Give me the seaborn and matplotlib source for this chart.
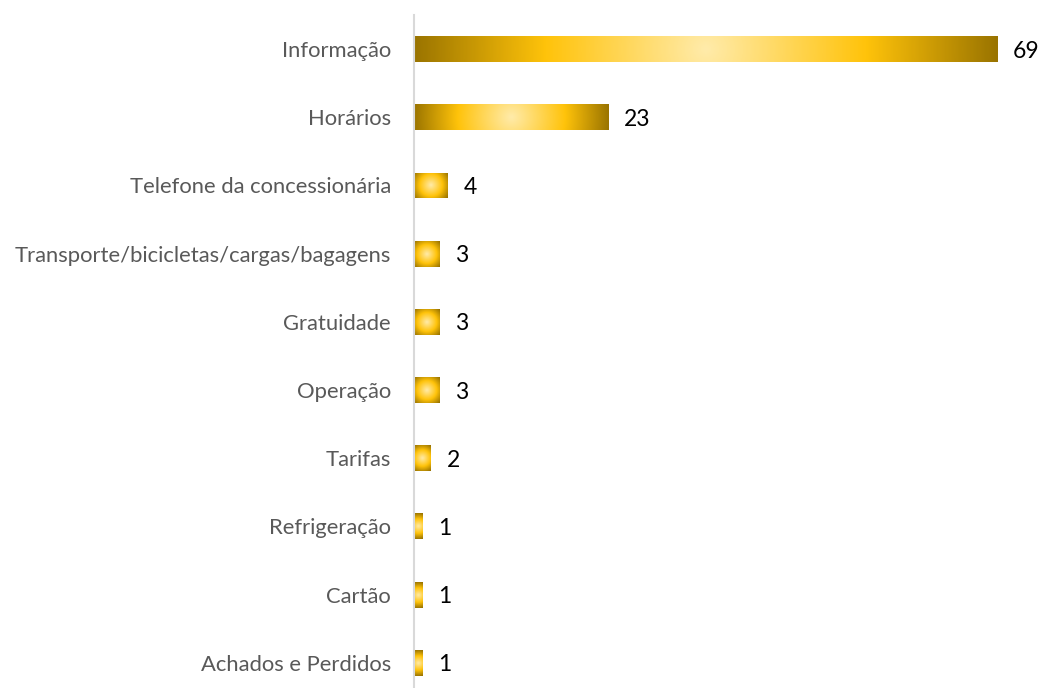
import numpy as np
import pandas as pd
import matplotlib
matplotlib.use("Agg")
import matplotlib.pyplot as plt
from matplotlib.colors import LinearSegmentedColormap
import seaborn as sns

categories = ["Informação", "Horários", "Telefone da concessionária",
              "Transporte/bicicletas/cargas/bagagens", "Gratuidade", "Operação",
              "Tarifas", "Refrigeração", "Cartão", "Achados e Perdidos"]
values = [69, 23, 4, 3, 3, 3, 2, 1, 1, 1]

df = pd.DataFrame({"categoria": categories, "total": values})

sns.set_theme(style="white")
plt.rcParams["font.family"] = ["Lato", "DejaVu Sans"]

fig = plt.figure(figsize=(10.41, 6.88), dpi=100)
ax = fig.add_axes([414 / 1041, 0.0, 1 - 414 / 1041, 1 - 15 / 688])

sns.barplot(data=df, x="total", y="categoria", orient="h", color="#FFC000",
            width=0.38, ax=ax)

ax.set_xlim(0, 74.2)
ax.set_ylim(9.37, -0.5)

# gold gradient: light centre, amber middle, dark olive-gold rim
gold = LinearSegmentedColormap.from_list(
    "gold", [(0.0, "#FFEBAA"), (0.55, "#FFC30A"), (1.0, "#9A7400")])

fig.canvas.draw()
to_px = ax.transData
for patch in ax.patches:
    x0, y0 = patch.get_x(), patch.get_y()
    w, h = patch.get_width(), patch.get_height()
    (px0, py0), (px1, py1) = to_px.transform([(x0, y0), (x0 + w, y0 + h)])
    hw, hh = abs(px1 - px0) / 2, abs(py1 - py0) / 2
    nx = max(int(hw * 2), 8)
    ny = max(int(hh * 2), 8)
    dx = np.linspace(-hw, hw, nx)[None, :]
    dy = np.linspace(-hh, hh, ny)[:, None]
    t = np.clip(np.sqrt(dx ** 2 + dy ** 2) / np.hypot(hw, hh), 0, 1)
    im = ax.imshow(t, cmap=gold, vmin=0, vmax=1, aspect="auto",
                   extent=(x0, x0 + w, y0 + h, y0), interpolation="bilinear",
                   zorder=2)
    im.set_clip_path(patch)
    patch.set_facecolor("none")
    patch.set_edgecolor("none")

for i, val in enumerate(values):
    ax.text(val + 1.85, i, str(val), va="center_baseline", ha="left",
            fontsize=16.5, color="#000000")

ax.set_xlim(0, 74.2)
ax.set_ylim(9.37, -0.5)
ax.set_xlabel("")
ax.set_ylabel("")
ax.set_xticks([])
ax.tick_params(axis="y", length=0, pad=16.5, labelsize=15.8, labelcolor="#595959")
for s in ["top", "right", "bottom"]:
    ax.spines[s].set_visible(False)
ax.spines["left"].set_color("#D9D9D9")
ax.spines["left"].set_linewidth(1.5)

fig.savefig("out.png", dpi=100)
